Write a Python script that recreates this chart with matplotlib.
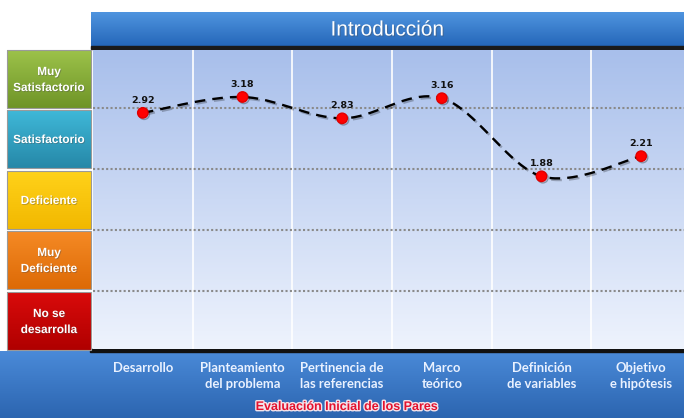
import numpy as np
import matplotlib
matplotlib.use("Agg")
import matplotlib.pyplot as plt
import matplotlib.patheffects as pe
from matplotlib.patches import Rectangle

# ---- data ----
categories = ["Desarrollo", "Planteamiento\ndel problema", "Pertinencia de\nlas referencias",
              "Marco\nteórico", "Definición\nde variables", "Objetivo\ne hipótesis"]
values = [2.92, 3.18, 2.83, 3.16, 1.88, 2.21]
levels = ["Muy\nSatisfactorio", "Satisfactorio", "Deficiente", "Muy\nDeficiente", "No se\ndesarrolla"]
level_colors = [("#9cc24a", "#6f9427"), ("#3fb8d8", "#2688a8"), ("#ffd21a", "#f2b800"),
                ("#f58a25", "#dd6a06"), ("#d90b0b", "#b00000")]
title = "Introducción"
xlabel = "Evaluación Inicial de los Pares"

W, H = 684, 418
fig = plt.figure(figsize=(W / 100, H / 100), dpi=100)
fig.patch.set_facecolor("white")

def fx(px):
    return px / W

def fy(py):
    return 1 - py / H

# background decoration axes (pixel coords)
bg = fig.add_axes([0, 0, 1, 1])
bg.set_xlim(0, W)
bg.set_ylim(H, 0)
bg.axis("off")

def grad_rect(ax, x0, y0, x1, y1, c_top, c_bot, z=1):
    c1 = np.array(matplotlib.colors.to_rgb(c_top))
    c2 = np.array(matplotlib.colors.to_rgb(c_bot))
    t = np.linspace(0, 1, 64)[:, None]
    img = (c1 * (1 - t) + c2 * t)[:, None, :]
    ax.imshow(img, extent=[x0, x1, y1, y0], aspect="auto", zorder=z, interpolation="bilinear")

# title bar
grad_rect(bg, 91, 12, W, 47, "#4f94df", "#2466b8")
bg.add_patch(Rectangle((91, 46), W - 91, 2.5, color="#1a1a1a", zorder=2))
bg.text((91 + W) / 2, 30, title, color="white", fontsize=15, ha="center", va="center",
        family="Liberation Sans", zorder=3,
        path_effects=[pe.withSimplePatchShadow(offset=(0.8, -0.8), alpha=0.35)])

# bottom bar
grad_rect(bg, 0, 351, W, H, "#4a8ad8", "#2c65b0")
bg.add_patch(Rectangle((90, 348.5), W - 90, 3, color="#111111", zorder=2))

# left level boxes
tops = [50, 110, 171, 231, 292]
for i, (lab, (ct, cb)) in enumerate(zip(levels, level_colors)):
    y0 = tops[i]
    y1 = y0 + 58
    grad_rect(bg, 7, y0, 91, y1, ct, cb, z=2)
    bg.add_patch(Rectangle((7, y0), 84, y1 - y0, fill=False, ec="#9a9a9a", lw=0.8, zorder=3))
    bg.text(49, (y0 + y1) / 2 + 1, lab, color="white", fontsize=8.5, fontweight="bold",
            family="Liberation Sans",
            ha="center", va="center", linespacing=1.45, zorder=4,
            path_effects=[pe.withSimplePatchShadow(offset=(0.6, -0.6), alpha=0.4)])

# main plot axes
left_px, right_px, top_px, bot_px = 93, 691, 50, 349
ax = fig.add_axes([fx(left_px), fy(bot_px), fx(right_px - left_px), (bot_px - top_px) / H])
ax.set_zorder(2)
ax.set_xlim(-0.5, 5.5)
ax.set_ylim(-0.95, 3.95)
ax.axis("off")
grad = np.linspace(0, 1, 128)[:, None]
ctop = np.array(matplotlib.colors.to_rgb("#a8bfeb"))
cbot = np.array(matplotlib.colors.to_rgb("#eef3fd"))
img = (ctop * (1 - grad) + cbot * grad)[:, None, :]
ax.imshow(img, extent=[-0.5, 5.5, -0.95, 3.95], aspect="auto", zorder=0, interpolation="bilinear")

# vertical white separators
for xv in np.arange(0.5, 5.5, 1.0):
    ax.axvline(xv, color="white", lw=1.2, zorder=1)
# dotted horizontal gridlines
for yv in [3, 2, 1, 0]:
    ax.axhline(yv, color="#8a8a8a", lw=1.5, ls=(0, (1, 1.1)), zorder=1)

# smoothed line (Catmull-Rom style, like Excel smoothing)
xs = np.arange(len(values), dtype=float)
ys = np.array(values, dtype=float)
px = np.concatenate([[xs[0]], xs, [xs[-1]]])
py = np.concatenate([[ys[0]], ys, [ys[-1]]])
cx, cy = [], []
for i in range(1, len(px) - 2):
    p0, p1, p2, p3 = (px[i - 1], py[i - 1]), (px[i], py[i]), (px[i + 1], py[i + 1]), (px[i + 2], py[i + 2])
    b1 = (p1[0] + (p2[0] - p0[0]) / 6, p1[1] + (p2[1] - p0[1]) / 6)
    b2 = (p2[0] - (p3[0] - p1[0]) / 6, p2[1] - (p3[1] - p1[1]) / 6)
    t = np.linspace(0, 1, 40)
    bx = (1 - t) ** 3 * p1[0] + 3 * (1 - t) ** 2 * t * b1[0] + 3 * (1 - t) * t ** 2 * b2[0] + t ** 3 * p2[0]
    by = (1 - t) ** 3 * p1[1] + 3 * (1 - t) ** 2 * t * b1[1] + 3 * (1 - t) * t ** 2 * b2[1] + t ** 3 * p2[1]
    cx.extend(bx)
    cy.extend(by)
ax.plot(cx, cy, color="black", lw=1.7, ls=(0, (4.5, 3)), zorder=3,
        path_effects=[pe.SimpleLineShadow(offset=(1.2, -1.2), alpha=0.25), pe.Normal()])
ax.plot(xs, ys, ls="none", marker="o", ms=7.5, mfc="#ff0000", mec="#e00000", zorder=4,
        path_effects=[pe.SimpleLineShadow(offset=(1, -1), alpha=0.3), pe.Normal()])
for x, v in zip(xs, ys):
    ax.annotate(f"{v:.2f}", (x, v), xytext=(0, 6), textcoords="offset points",
                ha="center", va="bottom", fontsize=6.8, fontweight="bold", color="#111111", zorder=5)

# category labels in bottom bar
for i, c in enumerate(categories):
    xpix = left_px + (i + 0.5) * (right_px - left_px) / 6
    bg.text(xpix, 362, c, color="#e9f1ff", fontsize=9.4, fontweight="bold", ha="center", va="top",
            family="Lato", linespacing=1.45, zorder=4)
bg.text(347, 407, xlabel, color="#e3112e", fontsize=9, fontweight="bold", ha="center", va="center",
        family="Liberation Sans",
        zorder=4, path_effects=[pe.withStroke(linewidth=2, foreground="#f3e3ea")])

fig.savefig("out.png", dpi=100)
